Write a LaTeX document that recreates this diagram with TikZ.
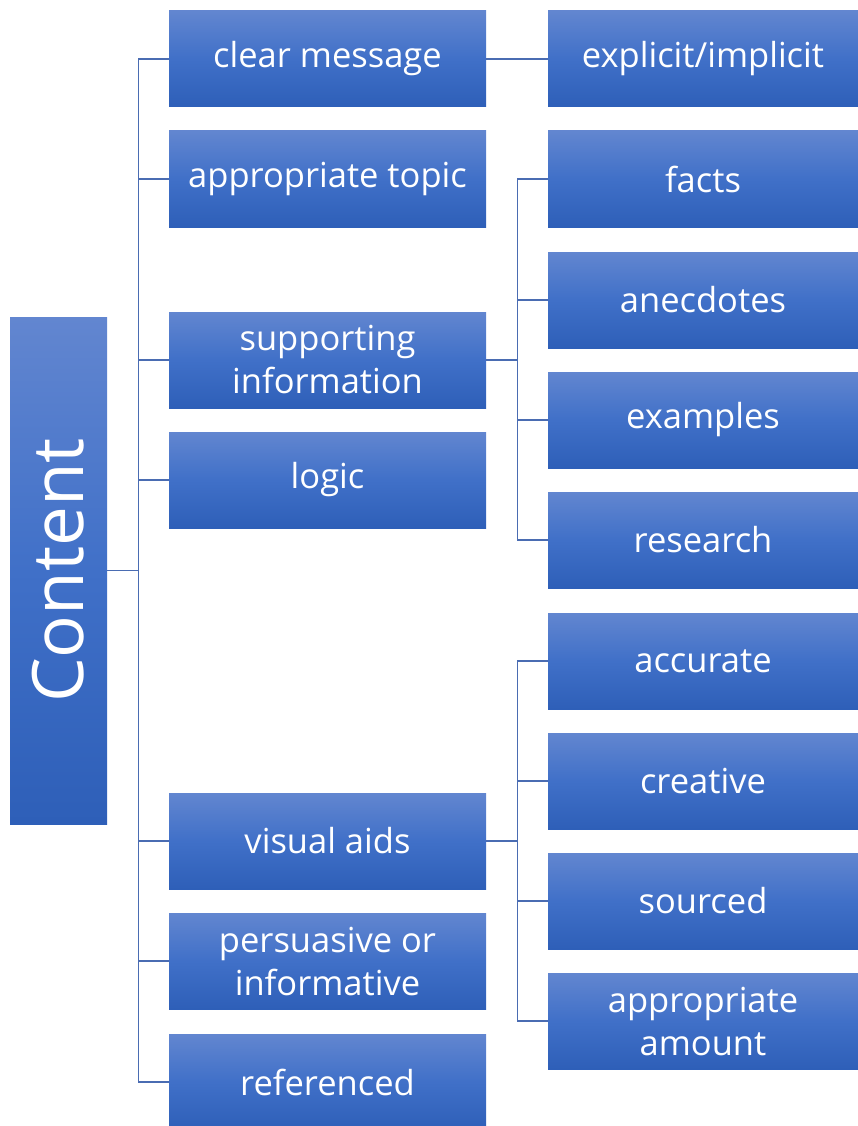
\documentclass[tikz,border=0pt]{standalone}
\usepackage{fontspec}
\setmainfont{Open Sans}
\begin{document}
\begin{tikzpicture}[x=1pt,y=-1pt,
  boxbase/.style={rectangle, inner sep=0pt, text=white, align=center,
    top color=boxtop, bottom color=boxbot, middle color=boxmid, shading angle=0},
  lvlone/.style={boxbase, minimum width=317pt, minimum height=96pt, font=\fontsize{34.5}{43}\selectfont},
  lvltwo/.style={boxbase, minimum width=310pt, minimum height=96pt, font=\fontsize{34.5}{43}\selectfont},
  rootbox/.style={boxbase, minimum width=507pt, minimum height=97pt, rotate=90, font=\fontsize{71}{80}\selectfont},
  conn/.style={draw=linec, line width=1.2pt}
]
\definecolor{boxtop}{HTML}{6286D0}
\definecolor{boxmid}{HTML}{4070C8}
\definecolor{boxbot}{HTML}{2E5FB8}
\definecolor{linec}{HTML}{4A6CB2}
\useasboundingbox (0,0) rectangle (858,1126);

\node[rootbox] (root) at (58.5,570.5) {Content};

\node[lvlone] (a1) at (327.5,59) {clear message};
\node[lvlone] (a2) at (327.5,179) {appropriate topic};
\node[lvlone] (a3) at (327.5,360) {supporting\\information};
\node[lvlone] (a4) at (327.5,480) {logic};
\node[lvlone] (a5) at (327.5,841) {visual aids};
\node[lvlone] (a6) at (327.5,961) {persuasive or\\informative};
\node[lvlone] (a7) at (327.5,1082) {referenced};

\node[lvltwo] (b1) at (703,59) {explicit/implicit};
\node[lvltwo] (s1) at (703,179) {facts};
\node[lvltwo] (s2) at (703,300) {anecdotes};
\node[lvltwo] (s3) at (703,420) {examples};
\node[lvltwo] (s4) at (703,540) {research};
\node[lvltwo] (v1) at (703,661) {accurate};
\node[lvltwo] (v2) at (703,781) {creative};
\node[lvltwo] (v3) at (703,901) {sourced};
\node[lvltwo] (v4) at (703,1021) {appropriate\\amount};

\foreach \c in {a1,a2,a3,a4,a5,a6,a7}
  \draw[conn] (root.south) -- ++(31,0) |- (\c.west);
\draw[conn] (a1.east) -- (b1.west);
\foreach \c in {s1,s2,s3,s4}
  \draw[conn] (a3.east) -- ++(31,0) |- (\c.west);
\foreach \c in {v1,v2,v3,v4}
  \draw[conn] (a5.east) -- ++(31,0) |- (\c.west);
\end{tikzpicture}
\end{document}
